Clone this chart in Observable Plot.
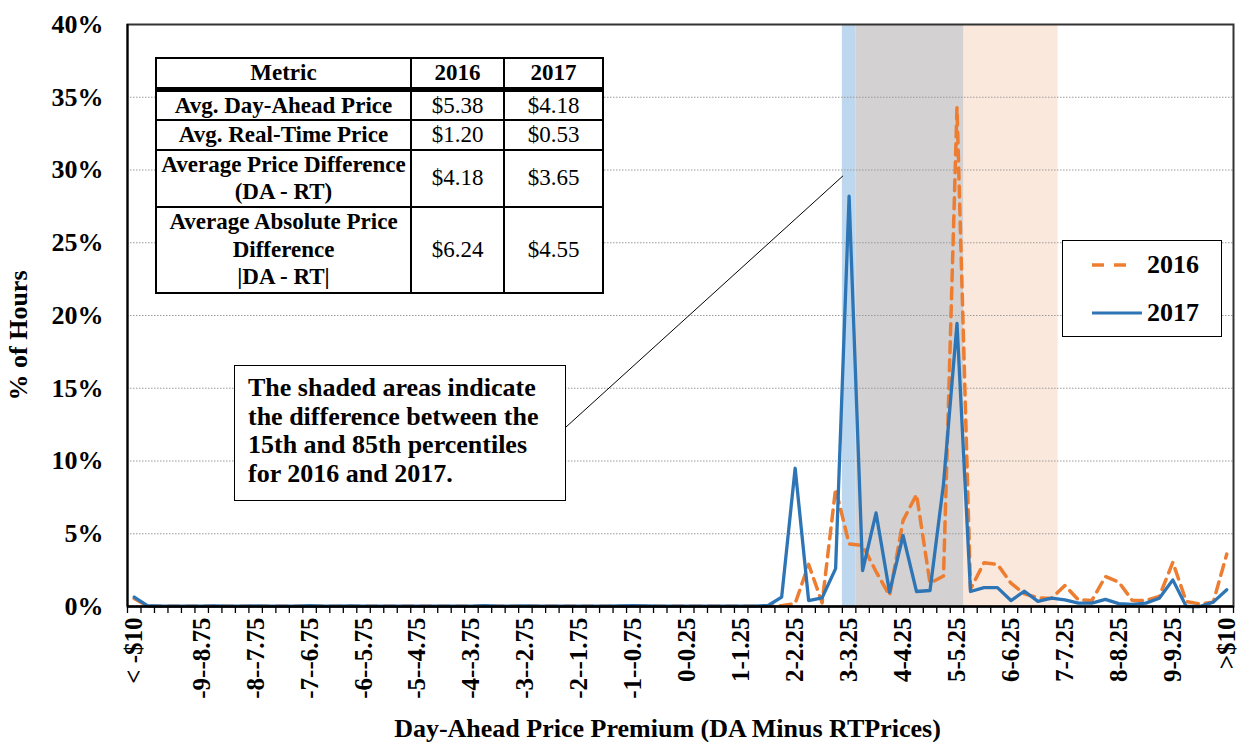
<!DOCTYPE html>
<html>
<head>
<meta charset="utf-8">
<script src="https://cdn.jsdelivr.net/npm/d3@7"></script>
<script src="https://cdn.jsdelivr.net/npm/@observablehq/plot@0.6"></script>
<style>
  body { margin: 0; background: #fff; }
  #wrap { position: relative; width: 1239px; height: 742px; font-family: "Liberation Serif", "Times New Roman", serif; color: #000; }
  #chart svg { display: block; }
  .ov { position: absolute; background: #fff; box-sizing: border-box; }
  #tbl { border-collapse: collapse; table-layout: fixed; }
  #tbl td, #tbl th { border: 2px solid #000; padding: 0; text-align: center; font-size: 23px; line-height: 27.5px; white-space: pre-line; }
  #tbl th { font-weight: bold; }
  #tbl td.m { font-weight: bold; }
  #tbl td.v { font-weight: normal; }
  #tbl tr.head th { border-bottom: 5px solid #000; }
  #note { border: 1.5px solid #000; font-weight: bold; font-size: 26px; line-height: 28.5px; padding: 8px 0 0 13px; white-space: pre-line; }
  #legend { border: 1.5px solid #000; }
  #legend .item { position: absolute; font-weight: bold; font-size: 26px; line-height: 26px; }
</style>
</head>
<body>
<div id="wrap">
  <div id="chart"></div>
</div>
<script>
// ---------- data ----------
const categories = ["< -$10","-10--9.75","-9.75--9.5","-9.5--9.25","-9.25--9","-9--8.75","-8.75--8.5","-8.5--8.25","-8.25--8","-8--7.75","-7.75--7.5","-7.5--7.25","-7.25--7","-7--6.75","-6.75--6.5","-6.5--6.25","-6.25--6","-6--5.75","-5.75--5.5","-5.5--5.25","-5.25--5","-5--4.75","-4.75--4.5","-4.5--4.25","-4.25--4","-4--3.75","-3.75--3.5","-3.5--3.25","-3.25--3","-3--2.75","-2.75--2.5","-2.5--2.25","-2.25--2","-2--1.75","-1.75--1.5","-1.5--1.25","-1.25--1","-1--0.75","-0.75--0.5","-0.5--0.25","-0.25-0","0-0.25","0.25-0.5","0.5-0.75","0.75-1","1-1.25","1.25-1.5","1.5-1.75","1.75-2","2-2.25","2.25-2.5","2.5-2.75","2.75-3","3-3.25","3.25-3.5","3.5-3.75","3.75-4","4-4.25","4.25-4.5","4.5-4.75","4.75-5","5-5.25","5.25-5.5","5.5-5.75","5.75-6","6-6.25","6.25-6.5","6.5-6.75","6.75-7","7-7.25","7.25-7.5","7.5-7.75","7.75-8","8-8.25","8.25-8.5","8.5-8.75","8.75-9","9-9.25","9.25-9.5","9.5-9.75","9.75-10",">$10"];

const tickLabels = ["< -$10","-9--8.75","-8--7.75","-7--6.75","-6--5.75","-5--4.75","-4--3.75","-3--2.75","-2--1.75","-1--0.75","0-0.25","1-1.25","2-2.25","3-3.25","4-4.25","5-5.25","6-6.25","7-7.25","8-8.25","9-9.25",">$10"];

// % of hours, 2016 (dashed orange)
const pct2016 = [0.55,0.02,0.01,0.01,0.02,0.01,0.01,0.02,0.01,0.01,0.02,0.01,0.01,0.01,0.02,0.01,0.01,0.01,0.02,0.01,0.01,0.01,0.01,0.02,0.01,0.02,0.01,0.01,0.01,0.02,0.01,0.01,0.01,0.01,0.02,0.01,0.01,0.01,0.01,0.01,0.01,0.01,0.01,0.01,0.01,0.01,0.02,
  0.03,0.05,0.2,2.9,0.25,8.1,4.3,4.2,2.4,0.75,5.9,7.7,1.6,2.1,34.3,1.2,3.0,2.9,1.6,0.87,0.6,0.55,1.44,0.46,0.41,2.06,1.67,0.41,0.41,0.69,3.04,0.34,0.18,0.3,3.6];
// % of hours, 2017 (solid blue)
const pct2017 = [0.65,0.05,0.03,0.03,0.02,0.03,0.04,0.02,0.03,0.04,0.03,0.02,0.03,0.05,0.03,0.02,0.04,0.03,0.03,0.02,0.03,0.03,0.02,0.02,0.02,0.03,0.05,0.03,0.02,0.04,0.02,0.03,0.03,0.02,0.02,0.03,0.04,0.05,0.04,0.03,0.03,0.02,0.02,0.02,0.03,0.02,0.03,
  0.07,0.64,9.5,0.41,0.6,2.6,28.2,2.47,6.43,0.98,4.88,1.03,1.1,8.43,19.46,1.03,1.3,1.3,0.41,1.05,0.35,0.58,0.46,0.23,0.23,0.49,0.2,0.14,0.23,0.57,1.83,0.0,0.0,0.3,1.15];

const yTicks = [0,5,10,15,20,25,30,35,40];
const gridValues = [5,10,15,20,25,30,35];

// 15th–85th percentile ranges (first and last bin)
const shade2017 = ["3-3.25","5-5.25"];
const shade2016 = ["3.25-3.5","6.75-7"];

const seriesNames = ["2016","2017"];
const seriesColors = ["#ED7D31","#2E75B6"];

const metrics = ["Avg. Day-Ahead Price","Avg. Real-Time Price","Average Price Difference\n(DA - RT)","Average Absolute Price\nDifference\n|DA - RT|"];
const metric2016 = ["$5.38","$1.20","$4.18","$6.24"];
const metric2017 = ["$4.18","$0.53","$3.65","$4.55"];

const noteText = "The shaded areas indicate\nthe difference between the\n15th and 85th percentiles\nfor 2016 and 2017.";
// leader line, in data units (category index, % of hours)
const leader = [{x1: 31.97, y1: 12.3, x2: 52.55, y2: 29.6}];

const xTitle = "Day-Ahead Price Premium (DA Minus RTPrices)";
const yTitle = "% of Hours";

// ---------- build ----------
const idx = (c) => categories.indexOf(c);
const n = categories.length;
const rows16 = pct2016.map((v, i) => ({i, v}));
const rows17 = pct2017.map((v, i) => ({i, v}));
const boundaries = d3.range(n + 1).map(i => i - 0.5);

const lo17 = idx(shade2017[0]) - 0.5, hi17 = idx(shade2017[1]) + 0.5;
const lo16 = idx(shade2016[0]) - 0.5, hi16 = idx(shade2016[1]) + 0.5;
const ovLo = Math.max(lo16, lo17), ovHi = Math.min(hi16, hi17);
const shades = [
  {x1: lo17, x2: ovLo, fill: "#BDD7EE"},
  {x1: ovHi, x2: hi16, fill: "#FBE8DC"},
  {x1: ovLo, x2: ovHi, fill: "#D3D1D2"}
];

const font = {fontFamily: "Liberation Serif", fontWeight: "bold"};

const chart = Plot.plot({
  width: 1239, height: 742,
  marginLeft: 127, marginRight: 6, marginTop: 24, marginBottom: 136,
  style: {fontFamily: "Liberation Serif", background: "#fff", color: "#000", overflow: "visible"},
  x: {type: "linear", domain: [-0.5, n - 0.5]},
  y: {domain: [0, 40]},
  marks: [
    Plot.rect(shades, {x1: "x1", x2: "x2", y1: 0, y2: 40, fill: "fill"}),
    Plot.ruleY(gridValues, {stroke: "#9a9a9a", strokeWidth: 1, strokeDasharray: "1.5,1.5"}),
    Plot.line(rows16, {x: "i", y: "v", stroke: seriesColors[0], strokeWidth: 3.5, strokeDasharray: "11,7"}),
    Plot.line(rows17, {x: "i", y: "v", stroke: seriesColors[1], strokeWidth: 3.3}),
    Plot.link(leader, {x1: "x1", y1: "y1", x2: "x2", y2: "y2", stroke: "#000", strokeWidth: 1}),
    Plot.frame({stroke: "#333", strokeWidth: 2}),
    Plot.ruleX([-0.5], {stroke: "#000", strokeWidth: 2}),
    Plot.ruleY([0], {stroke: "#000", strokeWidth: 2.5}),
    Plot.axisY(yTicks, {tickSize: 0, tickPadding: 24, tickFormat: d => d + "%", fontSize: 26, ...font, label: null}),
    Plot.axisX(boundaries, {tickSize: 7, fill: "none", stroke: "#000", strokeWidth: 1.3, label: null}),
    Plot.axisX(tickLabels.map(idx), {tickSize: 0, tickPadding: 11, tickRotate: -90, tickFormat: i => categories[i], fontSize: 25, ...font, label: null}),
    Plot.text([xTitle], {frameAnchor: "bottom", lineAnchor: "middle", dy: 122, dx: -13, fontSize: 26, ...font}),
    Plot.text([yTitle], {frameAnchor: "left", textAnchor: "middle", rotate: -90, dx: -109, dy: 20, fontSize: 26, ...font})
  ]
});
document.getElementById("chart").appendChild(chart);

const wrap = document.getElementById("wrap");

// table overlay
const tbl = document.createElement("table");
tbl.id = "tbl";
tbl.className = "ov";
Object.assign(tbl.style, {left: "155px", top: "57px", width: "447px"});
const colW = [255, 93, 99];
const rowH = [28, 30, 28, 57, 86];
const cg = document.createElement("colgroup");
colW.forEach(w => { const c = document.createElement("col"); c.style.width = w + "px"; cg.appendChild(c); });
tbl.appendChild(cg);
const head = document.createElement("tr");
head.className = "head";
head.style.height = rowH[0] + "px";
["Metric", ...seriesNames].forEach(t => { const th = document.createElement("th"); th.textContent = t; head.appendChild(th); });
tbl.appendChild(head);
metrics.forEach((m, k) => {
  const tr = document.createElement("tr");
  tr.style.height = rowH[k + 1] + "px";
  [[m, "m"], [metric2016[k], "v"], [metric2017[k], "v"]].forEach(([t, cls]) => {
    const td = document.createElement("td"); td.className = cls; td.textContent = t; tr.appendChild(td);
  });
  tbl.appendChild(tr);
});
wrap.appendChild(tbl);

// annotation box
const note = document.createElement("div");
note.id = "note"; note.className = "ov";
Object.assign(note.style, {left: "234px", top: "365px", width: "332px", height: "136px"});
note.textContent = noteText;
wrap.appendChild(note);

// legend
const lg = document.createElement("div");
lg.id = "legend"; lg.className = "ov";
Object.assign(lg.style, {left: "1062px", top: "240px", width: "160px", height: "97px"});
const ns = "http://www.w3.org/2000/svg";
seriesNames.forEach((name, k) => {
  const top = k === 0 ? 12 : 60;
  const sw = document.createElementNS(ns, "svg");
  sw.setAttribute("width", 60); sw.setAttribute("height", 24);
  Object.assign(sw.style, {position: "absolute", left: "25px", top: (top) + "px"});
  const ln = document.createElementNS(ns, "line");
  ln.setAttribute("x1", 4); ln.setAttribute("x2", k === 0 ? 41 : 54);
  ln.setAttribute("y1", 12); ln.setAttribute("y2", 12);
  ln.setAttribute("stroke", seriesColors[k]);
  ln.setAttribute("stroke-width", k === 0 ? 3.5 : 3.2);
  if (k === 0) ln.setAttribute("stroke-dasharray", "12,10");
  sw.appendChild(ln);
  lg.appendChild(sw);
  const t = document.createElement("div");
  t.className = "item"; t.textContent = name;
  Object.assign(t.style, {left: "84px", top: (top - 1) + "px"});
  lg.appendChild(t);
});
wrap.appendChild(lg);
</script>
</body>
</html>
